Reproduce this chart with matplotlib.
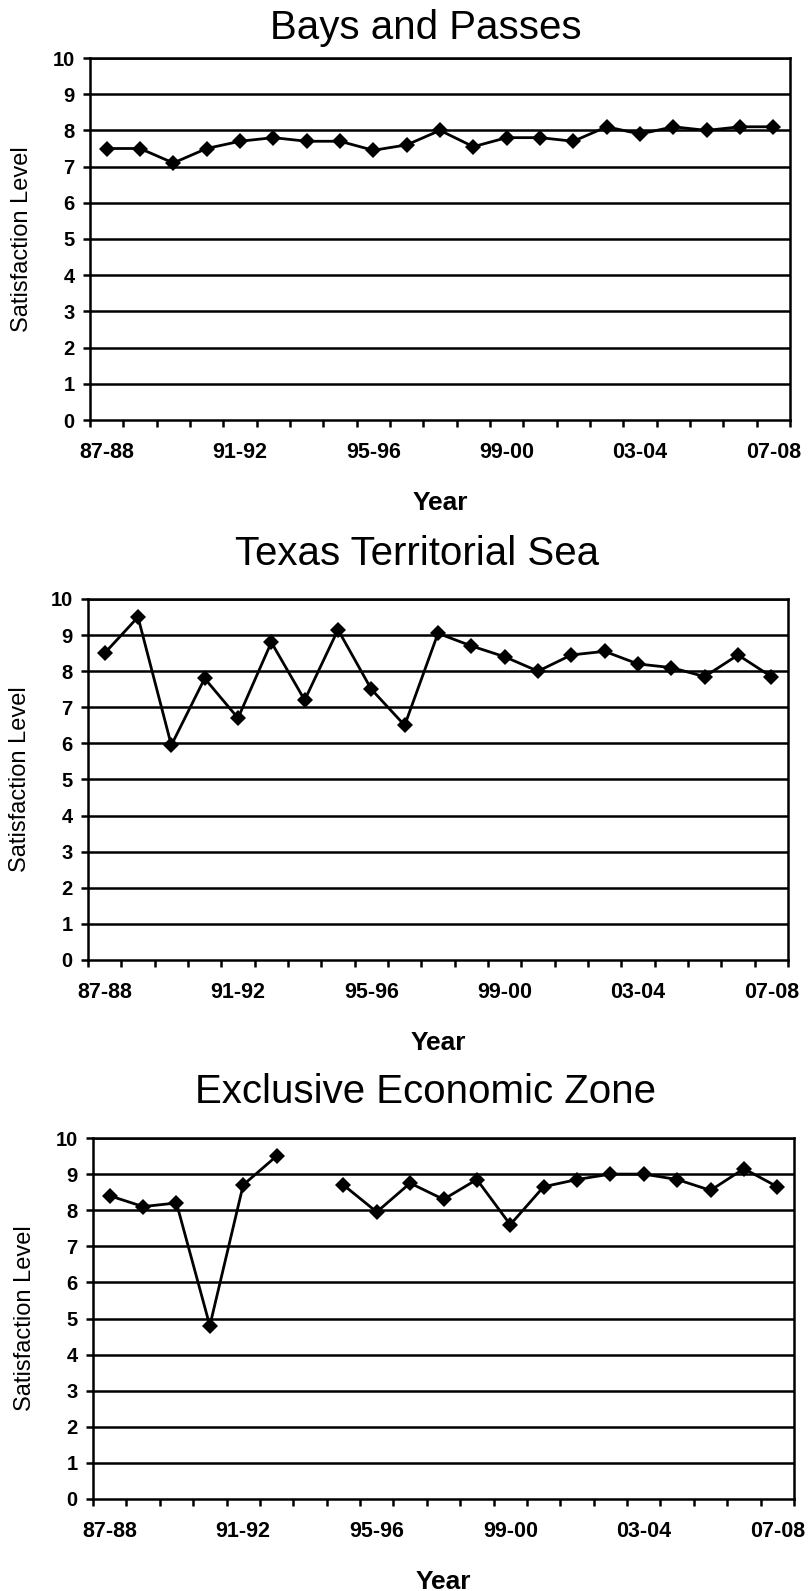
import numpy as np
import matplotlib
matplotlib.use("Agg")
import matplotlib.pyplot as plt

plt.rcParams['font.family'] = ['Liberation Sans', 'DejaVu Sans']

years = ['87-88', '88-89', '89-90', '90-91', '91-92', '92-93', '93-94',
         '94-95', '95-96', '96-97', '97-98', '98-99', '99-00', '00-01',
         '01-02', '02-03', '03-04', '04-05', '05-06', '06-07', '07-08']

bays_passes = [7.5, 7.5, 7.1, 7.5, 7.7, 7.8, 7.7, 7.7, 7.45, 7.6, 8.0,
               7.55, 7.8, 7.8, 7.7, 8.1, 7.9, 8.1, 8.0, 8.1, 8.1]
territorial_sea = [8.5, 9.5, 5.95, 7.8, 6.7, 8.8, 7.2, 9.15, 7.5, 6.5, 9.05,
                   8.7, 8.4, 8.0, 8.45, 8.55, 8.2, 8.1, 7.85, 8.45, 7.85]
eez = [8.4, 8.1, 8.2, 4.8, 8.7, 9.5, np.nan, 8.7, 7.95, 8.75, 8.3,
       8.85, 7.6, 8.65, 8.85, 9.0, 9.0, 8.85, 8.55, 9.15, 8.65]

titles = ['Bays and Passes', 'Texas Territorial Sea', 'Exclusive Economic Zone']
series = [bays_passes, territorial_sea, eez]
y_ticks = list(range(0, 11))
label_every = 4

W, H = 809, 1591
fig = plt.figure(figsize=(W / 100, H / 100), dpi=100)

# axes boxes in pixels: (left, top, right, bottom)
boxes = [(90, 58, 790, 420), (88, 599, 788, 960), (93, 1138, 794, 1499)]
title_x = [0.48, 0.47, 0.475]
title_pad = [13.5, 24.5, 25]

x = np.arange(len(years))
for i, (vals, title) in enumerate(zip(series, titles)):
    l, t, r, b = boxes[i]
    ax = fig.add_axes([l / W, 1 - b / H, (r - l) / W, (b - t) / H])
    ax.set_xlim(-0.5, len(years) - 0.5)
    ax.set_ylim(0, 10)
    for yv in y_ticks[1:]:
        ax.axhline(yv, color='black', lw=1.8, zorder=1)
    ax.plot(x, vals, color='black', lw=2.0, marker='D', markersize=8,
            markeredgewidth=0, zorder=3, clip_on=False)
    for s in ax.spines.values():
        s.set_linewidth(1.8)
        s.set_color('black')
    ax.set_yticks(y_ticks)
    ax.set_yticklabels([str(v) for v in y_ticks], fontsize=14.5, fontweight='bold')
    ax.tick_params(axis='y', direction='out', length=5, width=1.8, pad=6)
    major = x[::label_every]
    ax.set_xticks(major)
    ax.set_xticklabels([years[k] for k in major], fontsize=15.5, fontweight='bold')
    ax.set_xticks(np.arange(-0.5, len(years), 1), minor=True)
    ax.tick_params(axis='x', which='major', length=0, pad=16)
    ax.tick_params(axis='x', which='minor', direction='out', length=5, width=1.8)
    ax.set_xlabel('Year', fontsize=19, fontweight='bold', labelpad=20)
    ax.set_ylabel('Satisfaction Level', fontsize=17, labelpad=14)
    ax.set_title(title, fontsize=29, x=title_x[i], pad=title_pad[i])

fig.savefig('out.png', dpi=100, facecolor='white')
